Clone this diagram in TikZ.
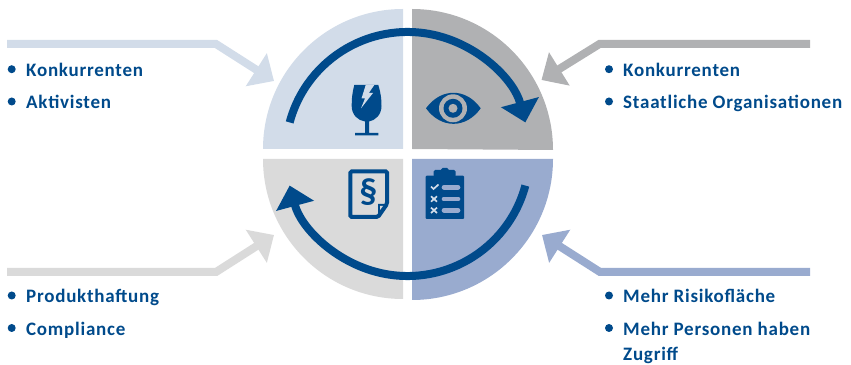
\documentclass[tikz,border=0pt]{standalone}
\usepackage{fontspec}
\setmainfont[LetterSpace=4]{Carlito}
\usetikzlibrary{arrows.meta}
\definecolor{darkBlue}{HTML}{004A8B}
\definecolor{paleBlue}{HTML}{D2DCE9}
\definecolor{midGrey}{HTML}{B0B1B3}
\definecolor{paleGrey}{HTML}{DADADA}
\definecolor{midBlue}{HTML}{99ABCF}

\begin{document}
\begin{tikzpicture}[x=1pt, y=1pt,
					item/.style={anchor=base west, inner sep=0pt, text=darkBlue, font=\fontsize{19}{21}\selectfont\bfseries},
					dot/.style={circle, fill=darkBlue, inner sep=0pt, minimum size=8pt},
					feed/.style={line width=8pt, -{Triangle[length=21pt, width=38pt]}},
					cycle line/.style={line width=8pt, darkBlue, -{Triangle[length=21pt, width=38pt]}}]
					\useasboundingbox (0,0) rectangle (851,364);
					\coordinate (hub) at (407.5,210);
					% quarters
					\fill[paleBlue] (403,215) -- (263,215) arc[start angle=180, end angle=90, radius=140] -- cycle;
					\fill[midGrey] (412,215) -- (412,355) arc[start angle=90, end angle=0, radius=141] -- cycle;
					\fill[paleGrey] (403,205) -- (403,65) arc[start angle=270, end angle=180, radius=140] -- cycle;
					\fill[midBlue] (412,205) -- (553,205) arc[start angle=0, end angle=-90, radius=141] -- cycle;
					% cycle arrows
					\draw[cycle line] (hub) ++(165:122) arc[start angle=165, end angle=15, radius=122];
					\draw[cycle line] (hub) ++(-15:122) arc[start angle=-15, end angle=-165, radius=122];
					% feeding arrows
					\coordinate (startKonk) at (7,320);
					\coordinate (kinkKonk) at (216,320);
					\coordinate (tipKonk) at (274,283);
					\coordinate (startStaat) at (810,320);
					\coordinate (kinkStaat) at (599.5,320);
					\coordinate (tipStaat) at (541.5,284);
					\coordinate (startProd) at (7,92);
					\coordinate (kinkProd) at (216,92);
					\coordinate (tipProd) at (274,129);
					\coordinate (startRisk) at (810,92);
					\coordinate (kinkRisk) at (600,92);
					\coordinate (tipRisk) at (542,129);
					\draw[feed, paleBlue] (startKonk) -- (kinkKonk) -- (tipKonk);
					\draw[feed, midGrey] (startStaat) -- (kinkStaat) -- (tipStaat);
					\draw[feed, paleGrey] (startProd) -- (kinkProd) -- (tipProd);
					\draw[feed, midBlue] (startRisk) -- (kinkRisk) -- (tipRisk);
					% glass
					\fill[darkBlue] (354.3,279) -- (378.3,279) .. controls (381,270) and (381.5,265) .. (381.5,258)
						.. controls (381.5,249) and (375,243.5) .. (369,242.5) -- (369,231) -- (378.3,231) -- (378.3,228.5)
						-- (355,228.5) -- (355,231) -- (365,231) -- (365,242.5) .. controls (358,243.5) and (351.7,249) .. (351.7,258)
						.. controls (351.7,265) and (352,270) .. (354.3,279) -- cycle;
					\fill[paleBlue] (365.7,279) -- (374.3,279) -- (368.8,271) -- (373,271) -- (361,255.7) -- (365,265.5) -- (361.5,265.5) -- cycle;
					% eye
					\fill[darkBlue] (426,255.7) .. controls (441,276.4) and (466,276.4) .. (480.7,255.7)
						.. controls (466,235) and (441,235) .. (426,255.7) -- cycle;
					\fill[midGrey] (453,255.7) circle (14);
					\fill[darkBlue] (453,255.7) circle (9.5);
					\fill[midGrey] (453,255.7) circle (4.5);
					% paper
					\draw[darkBlue, line width=4pt, fill=paleGrey, rounded corners=1.5pt] (350.3,147) -- (350.3,192.7) -- (387,192.7) -- (387,160) -- (378,147) -- cycle;
					\fill[darkBlue] (387,160) -- (378,160) -- (378,147) -- cycle;
					\fill[paleGrey] (383,158) -- (380,158) -- (380,154) -- cycle;
					\node[inner sep=0pt, text=darkBlue, font=\fontsize{36}{36}\selectfont\bfseries] (para) at (368.3,171.5) {§};
					% clipboard
					\fill[darkBlue, rounded corners=1pt] (425.7,145) rectangle (464,188.3);
					\fill[darkBlue, rounded corners=1.5pt] (433.7,187) rectangle (455.7,194);
					\fill[darkBlue, rounded corners=1.5pt] (441,190) rectangle (448.5,196);
					\foreach \rowY in {176.7,165,153.7} {
						\draw[midBlue, line width=4.7pt, line cap=round] (444,\rowY) -- (458,\rowY);
					}
					\draw[paleBlue, line width=1.7pt] (431,177.5) -- (433.5,175) -- (438.5,179.5);
					\foreach \rowY in {165,153.7} {
						\draw[paleBlue, line width=1.7pt] (431,\rowY-2.7) -- (437,\rowY+2.7);
						\draw[paleBlue, line width=1.7pt] (431,\rowY+2.7) -- (437,\rowY-2.7);
					}
					% lists
					\node[dot] (dotKonk) at (11.7,294.8) {};
					\node[item] (konk) at (26,287.3) {Konkurrenten};
					\node[dot] (dotAkt) at (11.7,262.5) {};
					\node[item] (akt) at (26,255) {Aktivisten};
					\node[dot] (dotKonkR) at (609,294.8) {};
					\node[item] (konkR) at (623,287.3) {Konkurrenten};
					\node[dot] (dotStaat) at (609,262.5) {};
					\node[item] (staat) at (623,255) {Staatliche Organisationen};
					\node[dot] (dotProd) at (11.7,68.5) {};
					\node[item] (prod) at (26,61) {Produkthaftung};
					\node[dot] (dotComp) at (11.7,36) {};
					\node[item] (comp) at (26,28.5) {Compliance};
					\node[dot] (dotRisk) at (609,68.5) {};
					\node[item] (risk) at (623,61) {Mehr Risikofläche};
					\node[dot] (dotPers) at (609,36) {};
					\node[item] (pers) at (623,28.5) {Mehr Personen haben};
					\node[item] (zug) at (623,4) {Zugriff};
				\end{tikzpicture}
\end{document}
